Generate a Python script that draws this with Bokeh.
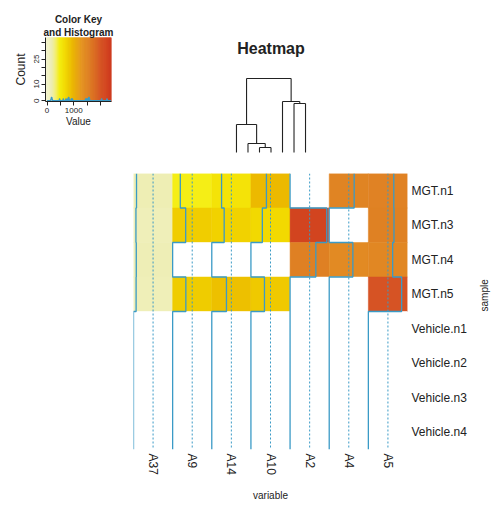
import numpy as np
from bokeh.plotting import figure
from bokeh.layouts import column, row
from bokeh.models import Range1d, FixedTicker, Title
from bokeh.embed import file_html
from bokeh.resources import INLINE

# ---------------- data ----------------
variables = ["A37", "A9", "A14", "A10", "A2", "A4", "A5"]
samples = ["MGT.n1", "MGT.n3", "MGT.n4", "MGT.n5",
           "Vehicle.n1", "Vehicle.n2", "Vehicle.n3", "Vehicle.n4"]
val_A37 = [185, 150, 170, 160, 0, 0, 0, 0]
val_A9 = [470, 800, 0, 810, 0, 0, 0, 0]
val_A14 = [600, 760, 0, 900, 0, 0, 0, 0]
val_A10 = [950, 700, 0, 830, 0, 0, 0, 0]
val_A2 = [0, 2250, 1580, 0, 0, 0, 0, 0]
val_A4 = [1530, 0, 1450, 0, 0, 0, 0, 0]
val_A5 = [1560, 1570, 1490, 2040, 0, 0, 0, 0]
columns_vals = [val_A37, val_A9, val_A14, val_A10, val_A2, val_A4, val_A5]

scale_max = 2400.0           # top of colour breaks
key_x_ticks = [0, 500, 1000, 1500, 2000]
key_x_labels = {0: "0", 500: "", 1000: "1000", 1500: "", 2000: ""}
key_y_ticks = [0, 5, 10, 15, 20, 25, 30, 35]
key_y_labels = {0: "0", 5: "", 10: "10", 15: "", 20: "", 25: "25", 30: "", 35: ""}

# column dendrogram (R-style merge matrix: negative = leaf, positive = earlier merge)
merge_a = [-3, -2, -1, -6, -5, 3]
merge_b = [-4, 1, 2, -7, 4, 5]
merge_h = [5, 9, 28, 49, 51, 74]

# ---------------- colours ----------------
stops = [0.0, 0.08, 0.14, 0.2, 0.3, 0.4, 0.55, 0.65, 0.75, 0.85, 0.95, 1.0]
stop_cols = ["#F4F4CC", "#EEEEB4", "#F3F070", "#F6EE10", "#F2D800", "#ECB800",
             "#E59422", "#E08224", "#DB6C22", "#D65324", "#D2421F", "#CE3A1E"]
stop_rgb = np.array([[int(c[i:i + 2], 16) for i in (1, 3, 5)] for c in stop_cols], float)


def colour(v, blank_zero=True):
    if blank_zero and v <= 0:
        return "#ffffff"
    f = min(max(v / scale_max, 0.0), 1.0)
    r = np.interp(f, stops, stop_rgb[:, 0])
    g = np.interp(f, stops, stop_rgb[:, 1])
    b = np.interp(f, stops, stop_rgb[:, 2])
    return "#%02x%02x%02x" % (int(r), int(g), int(b))


FONT = "Liberation Sans"
TRACE = "#3A9AC6"
TOP_H = 165
W = 498

# ---------------- colour key ----------------
key = figure(width=130, height=TOP_H, x_range=Range1d(-60, 2420), y_range=Range1d(-0.5, 38),
             toolbar_location=None, output_backend="svg",
             min_border_left=45, min_border_right=19, min_border_top=37, min_border_bottom=64)
edges = np.linspace(-60, 2420, 125)
key_cols = [colour((a + b) / 2, blank_zero=False) for a, b in zip(edges[:-1], edges[1:])]
key.quad(left=edges[:-1], right=edges[1:], bottom=-0.5, top=38,
         fill_color=key_cols, line_color=key_cols, line_width=0.6)
allv = np.array(columns_vals, float).ravel()
allv = allv[allv > 0]
hc, he = np.histogram(allv, bins=np.linspace(0, scale_max, 121))
hx = np.repeat(he, 2)[1:-1]
hy = np.repeat(hc, 2)
key.line(x=hx, y=hy, line_color=TRACE, line_width=1.3)
key.xgrid.visible = False
key.ygrid.visible = False
key.outline_line_color = None
key.xaxis.ticker = FixedTicker(ticks=key_x_ticks)
key.xaxis.major_label_overrides = key_x_labels
key.yaxis.ticker = FixedTicker(ticks=key_y_ticks)
key.yaxis.major_label_overrides = key_y_labels
key.yaxis.major_label_orientation = "vertical"
for ax in (key.xaxis[0], key.yaxis[0]):
    ax.minor_tick_line_color = None
    ax.major_tick_out = 4
    ax.major_tick_in = 0
    ax.major_label_standoff = 2
    ax.major_label_text_font = FONT
    ax.major_label_text_font_size = "8px"
    ax.major_label_text_color = "#222222"
    ax.axis_label_text_font = FONT
    ax.axis_label_text_font_style = "normal"
    ax.axis_label_text_color = "#222222"
    ax.axis_line_color = "#222222"
    ax.major_tick_line_color = "#222222"
key.xaxis.axis_label = "Value"
key.xaxis.axis_label_text_font_size = "10px"
key.xaxis.axis_label_standoff = 0
key.yaxis.axis_label = "Count"
key.yaxis.axis_label_text_font_size = "12px"
key.yaxis.axis_label_standoff = 4
key.add_layout(Title(text="and Histogram", align="center", text_font=FONT, text_font_size="10px",
                     text_font_style="bold", standoff=0, text_color="#222222"), "above")
key.add_layout(Title(text="Color Key", align="center", text_font=FONT, text_font_size="10px",
                     text_font_style="bold", standoff=0, text_color="#222222"), "above")

# ---------------- dendrogram + title ----------------
den = figure(width=W - 130, height=TOP_H, x_range=Range1d(-0.52, 6.52), y_range=Range1d(-6, 82),
             toolbar_location=None, output_backend="svg",
             min_border_left=100, min_border_right=W - 130 - 100 - 81, min_border_top=70,
             min_border_bottom=TOP_H - 158)
den.axis.visible = False
den.grid.visible = False
den.outline_line_color = None
node_x, node_h = [], []


def pos(k):
    if k < 0:
        return float(-k - 1), 0.0
    return node_x[k - 1], node_h[k - 1]


x0s, y0s, x1s, y1s = [], [], [], []
for a, b, h in zip(merge_a, merge_b, merge_h):
    xa, ha = pos(a)
    xb, hb = pos(b)
    x0s += [xa, xb, xa]; y0s += [ha, hb, h]
    x1s += [xa, xb, xb]; y1s += [h, h, h]
    node_x.append((xa + xb) / 2); node_h.append(h)
den.segment(x0=x0s, y0=y0s, x1=x1s, y1=y1s, line_color="#222222", line_width=1.1)
den.add_layout(Title(text="Heatmap", align="center", text_font=FONT, text_font_size="16px",
                     text_font_style="bold", standoff=27, text_color="#222222"), "above")

# ---------------- heatmap ----------------
HM_H = 338
hm = figure(width=W, height=HM_H, x_range=Range1d(0, 7), y_range=Range1d(8, 0),
            toolbar_location=None, output_backend="svg", y_axis_location="right",
            min_border_left=133, min_border_right=W - 133 - 276, min_border_top=8,
            min_border_bottom=HM_H - 8 - 277)
hm.grid.visible = False
hm.outline_line_color = None
cx, cy, cc = [], [], []
for i, col in enumerate(columns_vals):
    for j, v in enumerate(col):
        cx.append(i + 0.5); cy.append(j + 0.5); cc.append(colour(v))
hm.rect(x=cx, y=cy, width=1, height=1, fill_color=cc, line_color=cc, line_width=0.5)

# column traces (step lines) and centre dashed lines
txs, tys = [], []
for i, col in enumerate(columns_vals):
    xs, ys = [], []
    for j, v in enumerate(col):
        xv = i + min(v / scale_max, 1.0)
        xs += [xv, xv]; ys += [j, j + 1]
    txs.append(xs); tys.append(ys)
hm.multi_line(xs=txs, ys=tys, line_color=TRACE, line_width=1.3)
hm.segment(x0=[i + 0.5 for i in range(len(variables))], y0=0,
           x1=[i + 0.5 for i in range(len(variables))], y1=len(samples),
           line_color=TRACE, line_width=1, line_dash="2 2")

hm.xaxis.ticker = FixedTicker(ticks=[i + 0.5 for i in range(len(variables))])
hm.xaxis.major_label_overrides = {i + 0.5: v for i, v in enumerate(variables)}
hm.xaxis.major_label_orientation = "vertical"
hm.yaxis.ticker = FixedTicker(ticks=[j + 0.5 for j in range(len(samples))])
hm.yaxis.major_label_overrides = {j + 0.5: s for j, s in enumerate(samples)}
for ax in (hm.xaxis[0], hm.yaxis[0]):
    ax.axis_line_color = None
    ax.major_tick_line_color = None
    ax.minor_tick_line_color = None
    ax.major_tick_out = 0
    ax.major_tick_in = 0
    ax.major_label_text_font = FONT
    ax.major_label_text_font_size = "12px"
    ax.major_label_text_color = "#222222"
    ax.major_label_standoff = 4
    ax.axis_label_text_font = FONT
    ax.axis_label_text_font_size = "10px"
    ax.axis_label_text_font_style = "normal"
    ax.axis_label_text_color = "#222222"
hm.xaxis.axis_label = "variable"
hm.xaxis.axis_label_standoff = 12
hm.yaxis.axis_label = "sample"
hm.yaxis.axis_label_standoff = 15
hm.yaxis.axis_label_orientation = np.pi / 2

layout = column(row(column(key), column(den)), hm)
open("out.html", "w").write(file_html(layout, INLINE))
